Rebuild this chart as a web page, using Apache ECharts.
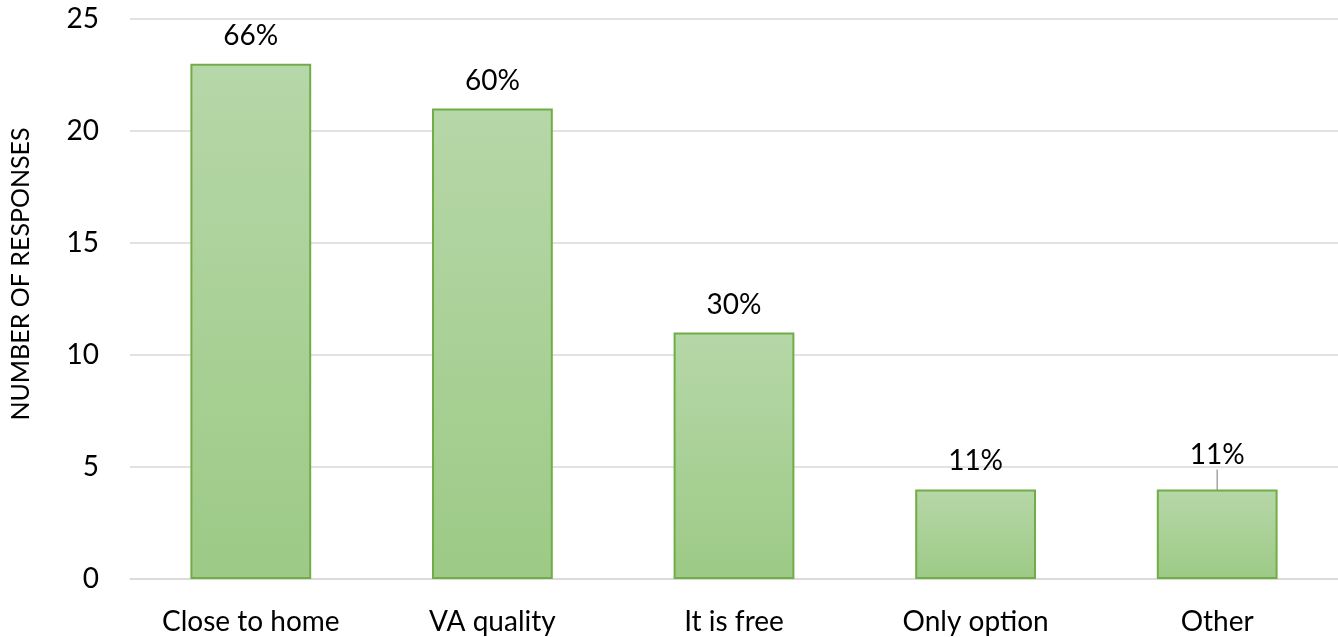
<!DOCTYPE html>
<html>
<head>
<meta charset="utf-8">
<script src="https://cdn.jsdelivr.net/npm/echarts@6/dist/echarts.min.js"></script>
<style>
  html, body { margin: 0; padding: 0; background: #ffffff; }
  #chart { width: 1338px; height: 637px; }
</style>
</head>
<body>
<div id="chart"></div>
<script>
const categories = ["Close to home", "VA quality", "It is free", "Only option", "Other"];
const responses = [23, 21, 11, 4, 4];
const percentLabels = ["66%", "60%", "30%", "11%", "11%"];
const yTicks = { min: 0, max: 25, interval: 5 };

const FONT = "Lato, 'Open Sans', sans-serif";
const TEXT = "#000000";
const GRID_LINE = "#d9d9d9";

const chart = echarts.init(document.getElementById("chart"));

const barData = responses.map((value, i) => {
  const item = { value };
  // the last label sits a touch higher with a leader line to its bar
  if (i === responses.length - 1) item.labelLine = { show: true, lineStyle: { color: "#a6a6a6", width: 1.5 } };
  return item;
});

chart.setOption({
  backgroundColor: "#ffffff",
  animation: false,
  grid: { left: 121, right: -13, top: 19, bottom: 58 },
  xAxis: {
    type: "category",
    data: categories,
    axisLine: { show: true, lineStyle: { color: GRID_LINE, width: 1.5 } },
    axisTick: { show: false },
    axisLabel: { color: TEXT, fontFamily: FONT, fontSize: 28, margin: 29 }
  },
  yAxis: {
    type: "value",
    min: yTicks.min,
    max: yTicks.max,
    interval: yTicks.interval,
    name: "NUMBER OF RESPONSES",
    nameLocation: "middle",
    nameRotate: 90,
    nameGap: 97,
    nameTextStyle: { color: TEXT, fontFamily: FONT, fontSize: 25, padding: [0, 0, 0, 50] },
    axisLine: { show: false },
    axisTick: { show: false },
    axisLabel: { color: TEXT, fontFamily: FONT, fontSize: 28, margin: 31 },
    splitLine: { lineStyle: { color: GRID_LINE, width: 1.5 } }
  },
  series: [{
    type: "bar",
    data: barData,
    barWidth: "50%",
    itemStyle: {
      color: new echarts.graphic.LinearGradient(0, 0, 0, 1, [
        { offset: 0, color: "#b6d7a8" },
        { offset: 1, color: "#9dca86" }
      ]),
      borderColor: "#70ad47",
      borderWidth: 2
    },
    label: {
      show: true,
      position: "top",
      distance: 14,
      color: TEXT,
      fontFamily: FONT,
      fontSize: 28,
      formatter: p => percentLabels[p.dataIndex]
    },
    labelLayout: p => (p.dataIndex === responses.length - 1 ? { dy: -6 } : {})
  }]
});
</script>
</body>
</html>
